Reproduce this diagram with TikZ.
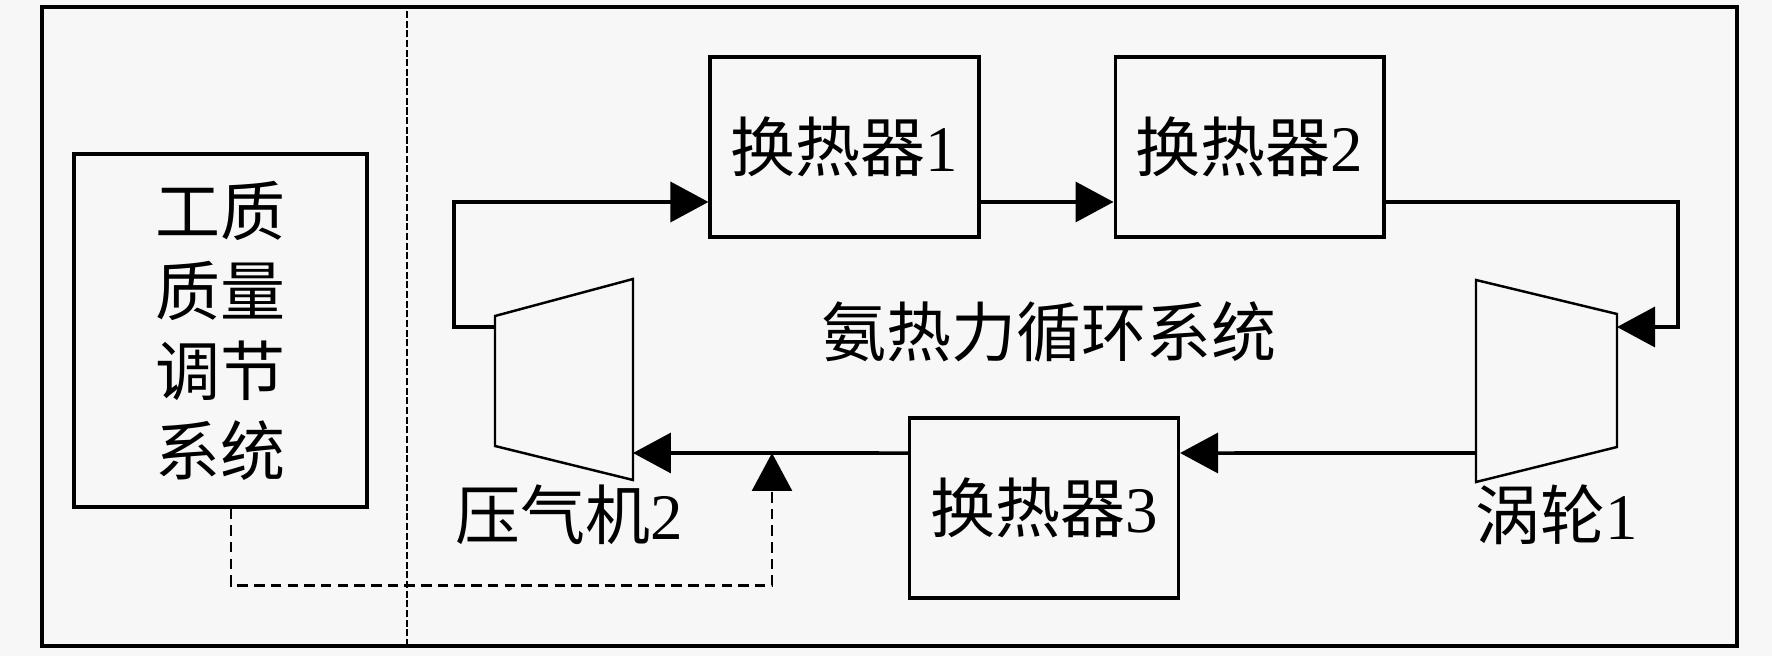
\documentclass[tikz,border=0pt]{standalone}
\usepackage{fontspec}
\setmainfont{Liberation Serif}
\newfontfamily\cjk{Noto Sans CJK SC}
\usetikzlibrary{arrows.meta, positioning}

\begin{document}
\begin{tikzpicture}[x=0.02cm, y=0.02cm, >={Triangle[length=0.76cm, width=0.8cm]},
  every node/.style={font=\fontsize{37}{45.5}\selectfont, inner sep=0pt},
  unit/.style={draw, line width=1.8pt, align=center},
  hxbox/.style={unit, minimum width=5.38cm, minimum height=3.6cm},
  flow/.style={line width=2pt},
  signal/.style={line width=1.5pt, dash pattern=on 6pt off 3.5pt},
  machine/.style={line width=1.4pt, line join=miter}]
\useasboundingbox (0,0) rectangle (1772,656);
\fill[black!3] (0,0) rectangle (1772,656);
\draw[line width=2pt] (42,10) rectangle (1737,649);
\draw[line width=1.1pt, dash pattern=on 4pt off 1.5pt] (407,10) -- (407,649);

\node[unit, minimum width=5.86cm, minimum height=7.06cm, font=\cjk\fontsize{37}{45.5}\selectfont] (reg) at (220.5,325.5) {工质\\质量\\调节\\系统};
\node[hxbox] (hx1) at (844.5,509) {{\cjk 换热器}1};
\node[hxbox, right=2.66cm of hx1] (hx2) {{\cjk 换热器}2};
\node[hxbox] (hx3) at (1044,148) {{\cjk 换热器}3};
\node (sys) at (1049,324) {\cjk 氨热力循环系统};

\coordinate (c2a) at (495,340);
\coordinate (c2b) at (633,377);
\coordinate (c2c) at (633,176);
\coordinate (c2d) at (495,210);
\draw[machine] (c2a) -- (c2b) -- (c2c) -- (c2d) -- cycle;
\node (c2lbl) at (569,141) {{\cjk 压气机}2};

\coordinate (t1a) at (1476,376);
\coordinate (t1b) at (1617,342);
\coordinate (t1c) at (1617,209);
\coordinate (t1d) at (1476,174);
\draw[machine] (t1a) -- (t1b) -- (t1c) -- (t1d) -- cycle;
\node (t1lbl) at (1557,141) {{\cjk 涡轮}1};

\coordinate (c2out) at (495,329);
\coordinate (c2in) at (633,203);
\coordinate (t1in) at (1617,329);
\coordinate (t1out) at (1476,203);
\coordinate (mix) at (772,203);

\draw[flow, ->] (c2out) -- ++(-41,0) |- ([yshift=-1.1cm]hx1.west);
\draw[flow, ->] ([yshift=-1.1cm]hx1.east) -- ([yshift=-1.1cm]hx2.west);
\draw[flow, ->] ([yshift=-1.1cm]hx2.east) -| (1678,329) -- (t1in);
\draw[flow, ->] (t1out) -- ([yshift=1.1cm]hx3.east);
\draw[flow, ->] ([yshift=1.1cm]hx3.west) -- (c2in);
\draw[signal, ->] ([xshift=0.21cm]reg.south) -- ++(0,-77) -| (mix);
\end{tikzpicture}
\end{document}
